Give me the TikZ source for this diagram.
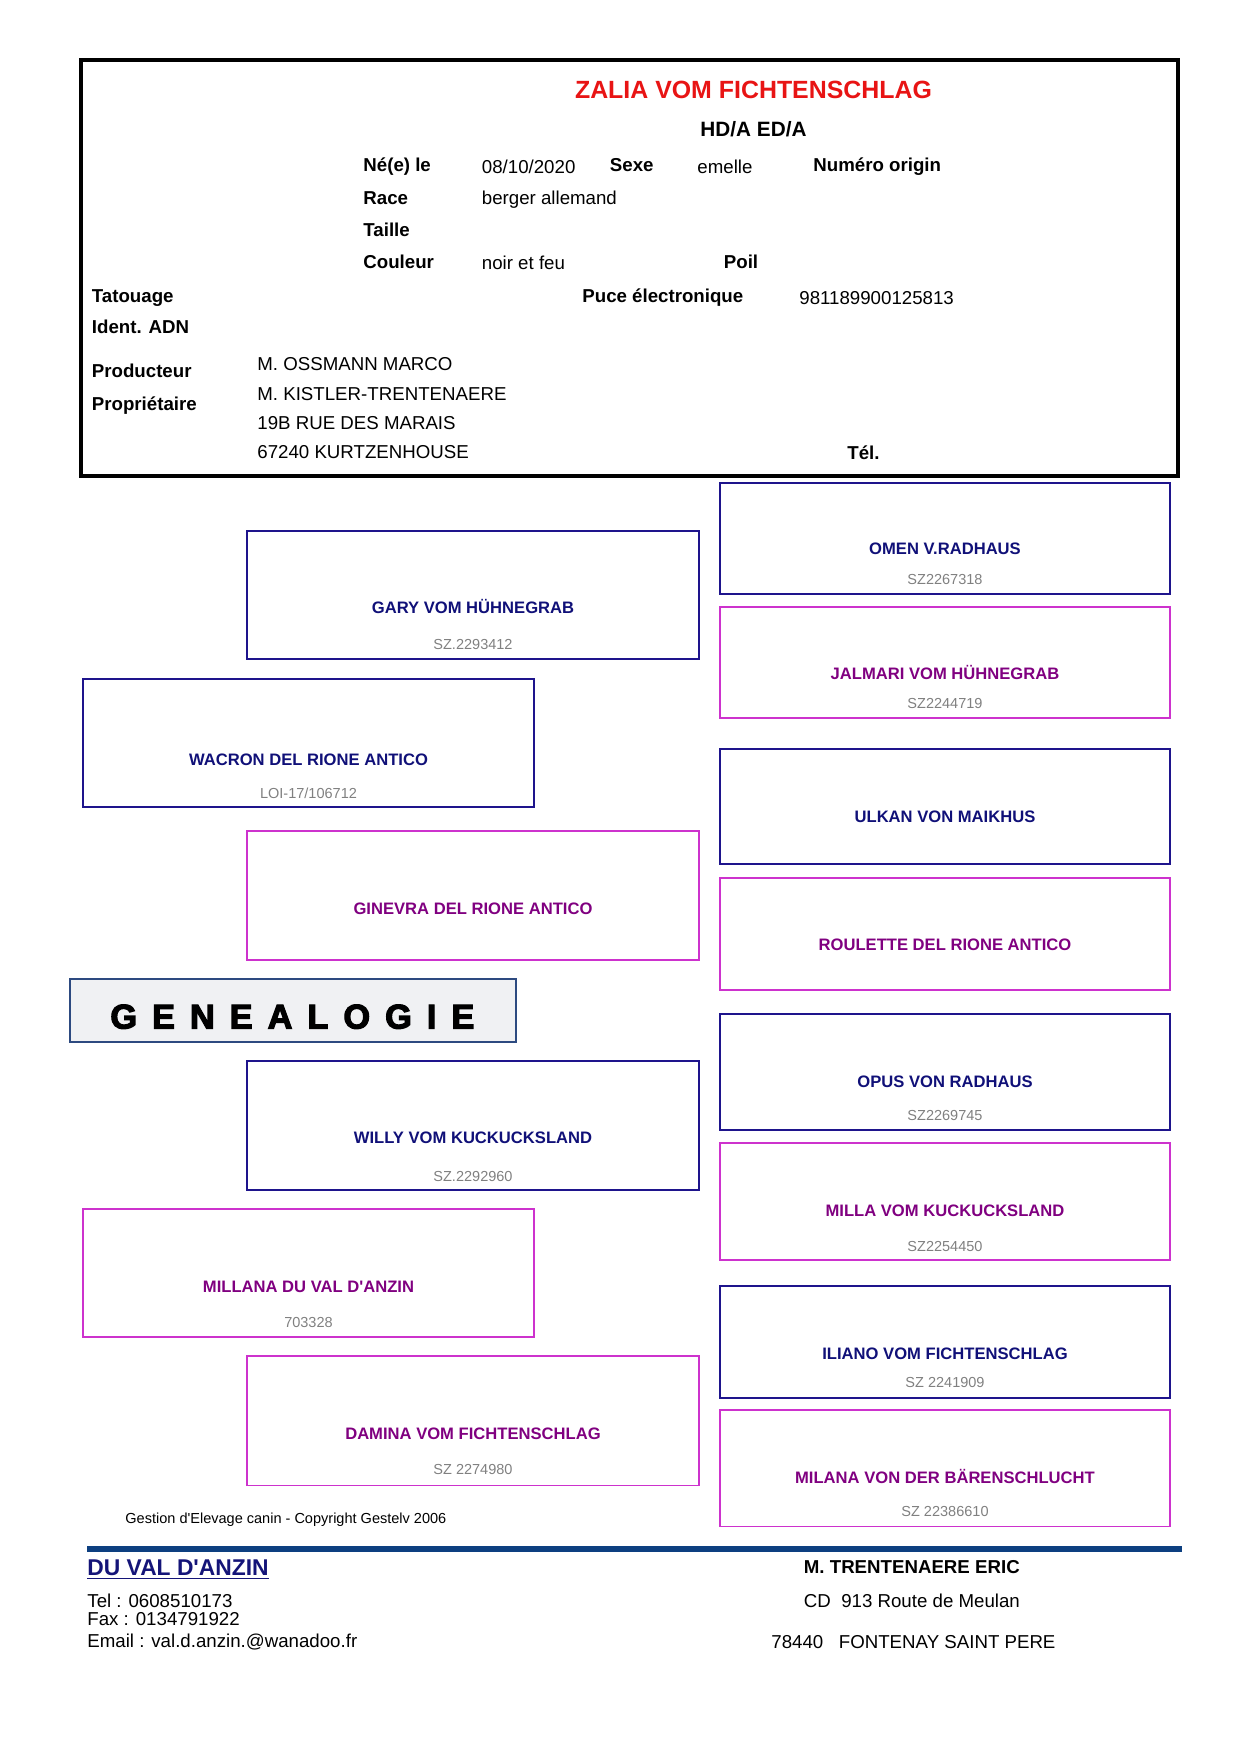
\documentclass[tikz,border=0pt]{standalone}
\usepackage{fontspec}
\setmainfont{Liberation Sans}
\newfontfamily\genfont[FakeBold=3.5,LetterSpace=44]{Liberation Sans Bold}
\usetikzlibrary{fit,calc}

\definecolor{maleline}{RGB}{30,20,140}
\definecolor{femline}{RGB}{205,50,205}
\definecolor{malename}{RGB}{16,16,120}
\definecolor{femname}{RGB}{128,0,128}
\definecolor{regcolor}{RGB}{128,128,128}
\definecolor{titlered}{RGB}{232,20,20}
\definecolor{genfill}{RGB}{240,241,243}
\definecolor{genline}{RGB}{45,74,128}
\definecolor{rulecolor}{RGB}{13,63,128}
\definecolor{duvalblue}{RGB}{20,20,120}

\begin{document}
\begin{tikzpicture}[
    x=0.16935mm, y=-0.16935mm,
    lbl/.style={font=\fontsize{9}{11}\selectfont\bfseries, anchor=base west, inner sep=0pt},
    val/.style={font=\fontsize{9}{11}\selectfont, anchor=base west, inner sep=0pt},
    sirebox/.style={draw=maleline, line width=0.5pt, inner sep=0pt},
    damebox/.style={draw=femline, line width=0.5pt, inner sep=0pt},
    sire/.style={font=\fontsize{8}{10}\selectfont\bfseries, text=malename, anchor=base, inner sep=0pt},
    dame/.style={font=\fontsize{8}{10}\selectfont\bfseries, text=femname, anchor=base, inner sep=0pt},
    reg/.style={font=\fontsize{7}{9}\selectfont, text=regcolor, anchor=base, inner sep=0pt}
]
\useasboundingbox (0,0) rectangle (1240,1754);

% fiche du chien
\node[draw, line width=1.5pt, inner sep=0pt, fit={(81,60) (1178,476)}] (fiche) {};
\node[font=\fontsize{12}{14}\selectfont\bfseries, text=titlered, anchor=base, inner sep=0pt] (nom) at (753.5,98.5) {ZALIA VOM FICHTENSCHLAG};
\node[font=\fontsize{10}{12}\selectfont\bfseries, anchor=base, inner sep=0pt] (hd) at (753.5,136) {HD/A ED/A};
\node[lbl] (nele) at (363,171) {Né(e) le};
\node[val] (date) at (481.5,173) {08/10/2020};
\node[lbl] (sexe) at (609.5,171) {Sexe};
\node[val] (sexev) at (697,173) {emelle};
\node[lbl] (numero) at (813,171) {Numéro origin};
\node[lbl] (race) at (363,204) {Race};
\node[val] (racev) at (481.5,204) {berger allemand};
\node[lbl] (taille) at (363,236) {Taille};
\node[lbl] (couleur) at (363,268.5) {Couleur};
\node[val] (couleurv) at (481.5,269) {noir et feu};
\node[lbl] (poil) at (723.5,268.5) {Poil};
\node[lbl] (tatouage) at (91.5,302) {Tatouage};
\node[lbl] (puce) at (582,302) {Puce électronique};
\node[val] (pucev) at (799,304) {981189900125813};
\node[lbl] (adn) at (91.5,333) {Ident. ADN};
\node[lbl] (prod) at (91.5,377) {Producteur};
\node[lbl] (prop) at (91.5,410) {Propriétaire};
\node[val] (prodv) at (257,370.5) {M. OSSMANN MARCO};
\node[val] (propv) at (257,400) {M. KISTLER-TRENTENAERE};
\node[val] (rue) at (257,429) {19B RUE DES MARAIS};
\node[val] (ville) at (257,458.5) {67240 KURTZENHOUSE};
\node[lbl] (tel) at (847,459.5) {Tél.};

% parents et grands-parents
\node[sirebox, fit={(247,531) (699,659)}] (gary) {};
\node[sire] (garyn) at (473,613) {GARY VOM HÜHNEGRAB};
\node[reg] (garyr) at (473,649) {SZ.2293412};
\node[sirebox, fit={(83,679) (534,807)}] (wacron) {};
\node[sire] (wacronn) at (308.5,765) {WACRON DEL RIONE ANTICO};
\node[reg] (wacronr) at (308.5,798.5) {LOI-17/106712};
\node[damebox, fit={(247,831) (699,960)}] (ginevra) {};
\node[dame] (ginevran) at (473,914.5) {GINEVRA DEL RIONE ANTICO};
\node[sirebox, fit={(247,1061) (699,1190)}] (willy) {};
\node[sire] (willyn) at (473,1143.5) {WILLY VOM KUCKUCKSLAND};
\node[reg] (willyr) at (473,1181.5) {SZ.2292960};
\node[damebox, fit={(83,1209) (534,1337)}] (millana) {};
\node[dame] (millanan) at (308.5,1292.5) {MILLANA DU VAL D\textquotesingle ANZIN};
\node[reg] (millanar) at (308.5,1327.5) {703328};
\node[damebox, fit={(247,1356) (699,1485)}] (damina) {};
\node[dame] (diminan) at (473,1439.5) {DAMINA VOM FICHTENSCHLAG};
\node[reg] (diminar) at (473,1474.5) {SZ 2274980};

% arriere-grands-parents
\node[sirebox, fit={(720,483) (1170,594)}] (omen) {};
\node[sire] (omenn) at (945,554) {OMEN V.RADHAUS};
\node[reg] (omenr) at (945,584) {SZ2267318};
\node[damebox, fit={(720,607) (1170,718)}] (jalmari) {};
\node[dame] (jalmarin) at (945,679) {JALMARI VOM HÜHNEGRAB};
\node[reg] (jalmarir) at (945,708.5) {SZ2244719};
\node[sirebox, fit={(720,749) (1170,864)}] (ulkan) {};
\node[sire] (ulkann) at (945,822) {ULKAN VON MAIKHUS};
\node[damebox, fit={(720,878) (1170,990)}] (roulette) {};
\node[dame] (rouletten) at (945,950) {ROULETTE DEL RIONE ANTICO};
\node[sirebox, fit={(720,1014) (1170,1130)}] (opus) {};
\node[sire] (opusn) at (945,1087) {OPUS VON RADHAUS};
\node[reg] (opusr) at (945,1120.5) {SZ2269745};
\node[damebox, fit={(720,1143) (1170,1260)}] (milla) {};
\node[dame] (millan) at (945,1216) {MILLA VOM KUCKUCKSLAND};
\node[reg] (millar) at (945,1251) {SZ2254450};
\node[sirebox, fit={(720,1286) (1170,1398)}] (iliano) {};
\node[sire] (ilianon) at (945,1359) {ILIANO VOM FICHTENSCHLAG};
\node[reg] (ilianor) at (945,1387.5) {SZ 2241909};
\node[damebox, fit={(720,1410) (1170,1526)}] (milana) {};
\node[dame] (milanan) at (945,1483) {MILANA VON DER BÄRENSCHLUCHT};
\node[reg] (milanar) at (945,1516.5) {SZ 22386610};

% titre
\node[draw=genline, fill=genfill, line width=0.7pt, inner sep=0pt, fit={(70,979) (516,1042)}] (genbox) {};
\node[font=\genfont\fontsize{16.5}{18}\selectfont, anchor=base west, inner sep=0pt] (gen) at (110,1028.5) {GENEALOGIE};

% pied de page
\node[font=\fontsize{7}{9}\selectfont, anchor=base west, inner sep=0pt] (gestelv) at (125,1523.5) {Gestion d\textquotesingle Elevage canin - Copyright Gestelv 2006};
\coordinate (ruleL) at (87,1549);
\coordinate (ruleR) at (1182,1549);
\draw[rulecolor, line width=2.9pt] (ruleL) -- (ruleR);
\node[font=\fontsize{11}{13}\selectfont\bfseries, text=duvalblue, anchor=base west, inner sep=0pt] (duval) at (87,1575) {DU VAL D\textquotesingle ANZIN};
\draw[duvalblue, line width=0.8pt] ($(duval.base west)+(0,3.5)$) -- ($(duval.base east)+(0,3.5)$);
\node[val] (eltel) at (87,1607.5) {Tel : 0608510173};
\node[val] (elfax) at (87,1625.5) {Fax : 0134791922};
\node[val] (elmail) at (87,1647.5) {Email : val.d.anzin.@wanadoo.fr};
\node[lbl] (eleveur) at (803.5,1573) {M. TRENTENAERE ERIC};
\node[val] (elrue) at (803.5,1607.5) {CD\ \ 913 Route de Meulan};
\node[val] (elville) at (771,1648) {78440\ \ \ FONTENAY SAINT PERE};
\end{tikzpicture}
\end{document}
